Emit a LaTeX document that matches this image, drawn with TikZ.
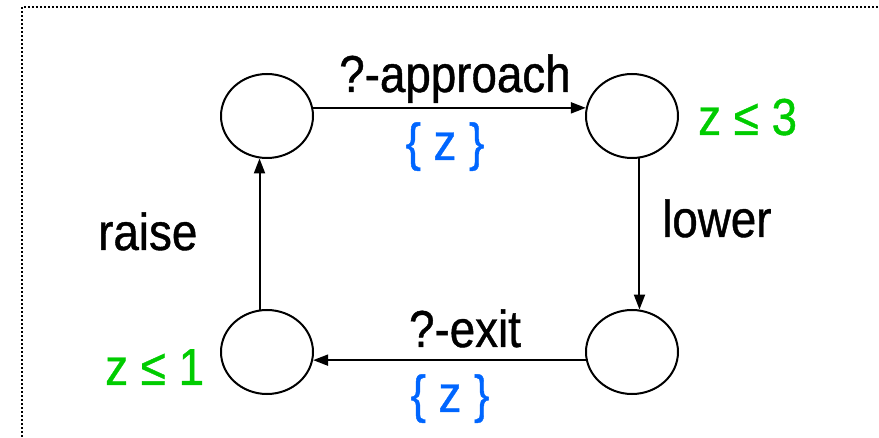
\documentclass[tikz,border=0pt]{standalone}
\usepackage{fontspec}
\setmainfont{Liberation Sans}[FakeStretch=0.88,FakeBold=0.8]
\usetikzlibrary{arrows.meta,shapes.geometric}
\definecolor{grn}{RGB}{0,204,0}
\definecolor{blu}{RGB}{0,102,255}
\tikzset{
  state/.style={ellipse,draw,line width=2pt,minimum width=92pt,minimum height=84pt,inner sep=0pt},
  edge/.style={line width=2pt,-{Triangle[length=15pt,width=11pt]}},
  lbl/.style={inner sep=0pt,font=\fontsize{52}{60}\selectfont},
  inv/.style={lbl,text=grn},
  rst/.style={lbl,text=blu},
}
\begin{document}
\begin{tikzpicture}[x=1pt,y=-1pt]
\useasboundingbox (0,0) rectangle (879,438);
\draw[line width=1.6pt,dash pattern=on 1.6pt off 2.4pt] (21.7,445) -- (21.7,7.3) -- (885,7.3);
\node[state] (a) at (267,116) {};
\node[state] (b) at (632,116) {};
\node[state] (c) at (267,352) {};
\node[state] (d) at (632,352) {};
\draw[edge] (a.10) -- (b.170);
\draw[edge] (b.-80) -- (d.80);
\draw[edge] (d.190) -- (c.-10);
\draw[edge] (c.100) -- (a.-100);
\node[lbl,anchor=base] (l1) at (455,92) {?-approach};
\node[rst,anchor=base] (r1) at (445,160) {\{ z \}};
\node[inv,anchor=base west] (i1) at (698,135) {z ≤ 3};
\node[lbl,anchor=base west] (l2) at (662,237) {lower};
\node[lbl,anchor=base west] (l3) at (98,250) {raise};
\node[lbl,anchor=base] (l4) at (465,347) {?-exit};
\node[rst,anchor=base] (r2) at (450,412) {\{ z \}};
\node[inv,anchor=base west] (i2) at (105,385) {z ≤ 1};
\end{tikzpicture}
\end{document}
